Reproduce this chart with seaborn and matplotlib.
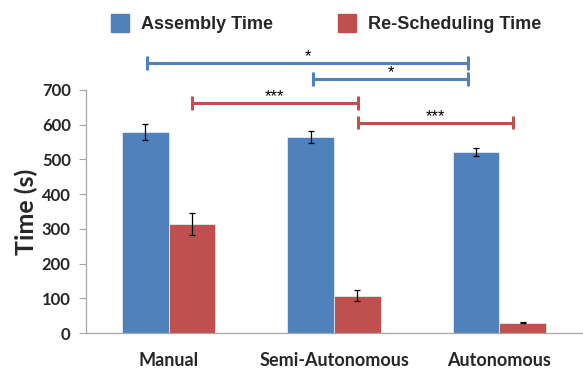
import matplotlib
matplotlib.use("Agg")
import matplotlib.pyplot as plt
from matplotlib.lines import Line2D
import seaborn as sns
import pandas as pd

# Mean times (s) and standard errors per condition
conditions = ["Manual", "Semi-Autonomous", "Autonomous"]
series = ["Assembly Time", "Re-Scheduling Time"]
assembly_time = [580, 564, 521]
assembly_err = [23, 17, 11]
rescheduling_time = [314, 107, 30]
rescheduling_err = [32, 16, 2]
y_ticks = [0, 100, 200, 300, 400, 500, 600, 700]

# Significance brackets: (series, start x, end x, height, label), x in category units
brackets = [
    ("Assembly Time", -0.13, 1.81, 778, "*"),
    ("Assembly Time", 0.873, 1.81, 732, "*"),
    ("Re-Scheduling Time", 0.139, 1.145, 663, "***"),
    ("Re-Scheduling Time", 1.145, 2.085, 606, "***"),
]

colors = {"Assembly Time": "#4F81BD", "Re-Scheduling Time": "#C0504D"}

df = pd.DataFrame({
    "Condition": conditions * 2,
    "Series": [series[0]] * 3 + [series[1]] * 3,
    "Time": assembly_time + rescheduling_time,
    "Err": assembly_err + rescheduling_err,
})

sns.set_style("white")
plt.rcParams["font.family"] = ["Lato", "DejaVu Sans"]

fig = plt.figure(figsize=(5.83, 3.70), dpi=100)
ax = fig.add_axes([0.1475, 0.1, 0.851, 0.657])

sns.barplot(data=df, x="Condition", y="Time", hue="Series", order=conditions,
            hue_order=series, palette=colors, saturation=1, width=0.566, ax=ax,
            errorbar=None, legend=False, edgecolor="#e3e9f2", linewidth=0.6)

# Bar centres by series and condition
centres = {}
bars = [p for p in ax.patches if p.get_width() > 0]
for i, p in enumerate(bars[:6]):
    centres[(series[i // 3], i % 3)] = p.get_x() + p.get_width() / 2

for _, row in df.iterrows():
    s = row["Series"]
    c = conditions.index(row["Condition"])
    ax.errorbar(centres[(s, c)], row["Time"], yerr=row["Err"], fmt="none",
                ecolor="black", elinewidth=0.9, capsize=2.5, capthick=0.9)

# Significance brackets above the axes
for s, x0, x1, h, label in brackets:
    col = colors[s]
    ax.plot([x0, x1], [h, h], color=col, lw=2.2, clip_on=False, solid_capstyle="butt")
    for xx in (x0, x1):
        ax.plot([xx, xx], [h - 20, h + 20], color=col, lw=2.2, clip_on=False,
                solid_capstyle="butt")
    ax.text((x0 + x1) / 2, h + 4, label, ha="center", va="baseline",
            fontsize=12, color="black", clip_on=False,
            family=["Liberation Sans", "DejaVu Sans"])

ax.set_xlim(-0.5, 2.5)
ax.set_ylim(0, 700)
ax.set_yticks(y_ticks)
ax.set_yticklabels([str(t) for t in y_ticks], fontsize=12, fontweight="bold")
ax.set_xticks([0, 1, 2])
ax.set_xticklabels(conditions, fontsize=13, fontweight="bold")
ax.set_xlabel("")
ax.set_ylabel("Time (s)", fontsize=18, fontweight="bold", labelpad=3)

# Boundary ticks between groups on the x axis
ax.set_xticks([0.5, 1.5, 2.5], minor=True)
ax.tick_params(axis="x", which="major", length=0, pad=14)
ax.tick_params(axis="x", which="minor", length=6, width=0.8, color="#a6a6a6",
               direction="out")
ax.tick_params(axis="y", length=5, width=0.8, color="#a6a6a6", direction="out",
               left=True, pad=6)

for side in ("top", "right"):
    ax.spines[side].set_visible(False)
for side in ("left", "bottom"):
    ax.spines[side].set_color("#a6a6a6")
    ax.spines[side].set_linewidth(0.9)

handles = [Line2D([0], [0], marker="s", linestyle="none", markersize=13,
                  markerfacecolor=colors[s], markeredgecolor=colors[s]) for s in series]
leg = fig.legend(handles, series, loc="upper center", bbox_to_anchor=(0.552, 1.0),
                 ncol=2, frameon=False, handletextpad=0.15, columnspacing=3.1,
                 prop={"family": ["Liberation Sans", "DejaVu Sans"],
                       "weight": "bold", "size": 13})

fig.savefig("out.png", dpi=100)
